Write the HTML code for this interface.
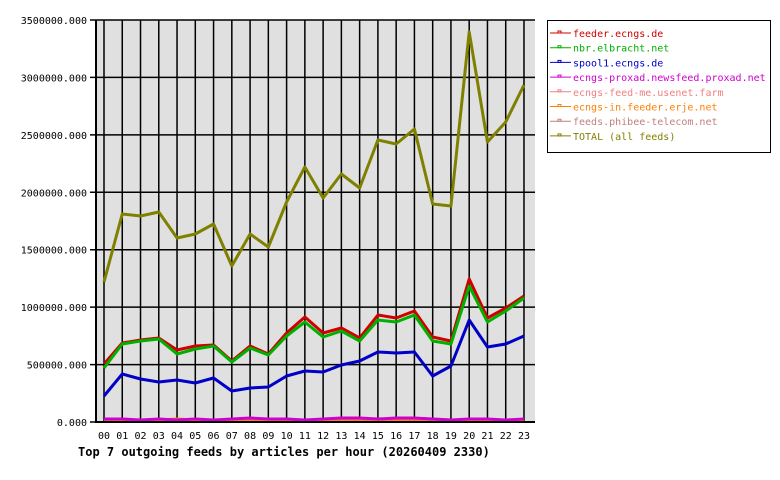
<!DOCTYPE html><html><head><style>body{margin:0;background:#fff}svg{display:block}text{font-family:"DejaVu Sans Mono","Liberation Mono",monospace;font-size:10px}</style></head><body>
<svg width="780" height="480" xmlns="http://www.w3.org/2000/svg">
<rect x="96" y="20" width="439" height="402" fill="#e0e0e0"/>
<g id="g" stroke="#000" stroke-width="1.5"></g>
<g id="s" fill="none" stroke-width="3" stroke-linejoin="round"></g>
<g id="lab"></g>
<line x1="96" y1="20" x2="96" y2="423" stroke="#000" stroke-width="2"/>
<line x1="95" y1="422" x2="535" y2="422" stroke="#000" stroke-width="2"/>
<text x="78" y="456" style="font-weight:bold;font-size:12px">Top 7 outgoing feeds by articles per hour (20260409 2330)</text>
<rect x="547.5" y="20.5" width="223" height="132" fill="#fff" stroke="#000"/>
<g id="leg"></g>
</svg>
<script>
const NS="http://www.w3.org/2000/svg";
function el(p,t,a,txt){const e=document.createElementNS(NS,t);for(const k in a)e.setAttribute(k,a[k]);if(txt)e.textContent=txt;p.appendChild(e);return e;}
const g=document.getElementById('g'),s=document.getElementById('s'),lab=document.getElementById('lab'),leg=document.getElementById('leg');
const X=i=>104+i*18.26;
for(let i=0;i<24;i++){el(g,'line',{x1:X(i),y1:20,x2:X(i),y2:422});el(lab,'text',{x:X(i),y:439,'text-anchor':'middle'},String(i).padStart(2,'0'));}
for(let k=0;k<=7;k++){const y=422-k*402/7;el(g,'line',{x1:90,y1:y,x2:535,y2:y});el(lab,'text',{x:87,y:y+4,'text-anchor':'end'},(k*500000)+'.000');}
const D=[
['#d00000',[364,343,340,338,350,346,345,361,346,354,333,317,333,328,338,315,318,311,337,341,279,318,308,296]],
['#00b000',[368,344,341,339,354,349,346,362,348,355,336,322,337,331,341,320,322,315,341,344,286,322,311,298]],
['#0000c8',[396,374,379,382,380,383,378,391,388,387,376,371,372,365,361,352,353,352,376,366,320,347,344,336]],
['#f08080',Array(24).fill(420)],
['#c08080',Array(24).fill(421)],
['#ff8000',[420,420,421,420,419,420,421,420,420,420,420,421,420,420,420,421,420,420,419,420,420,420,421,420]],
['#d000d0',[419,419,420,419,420,419,420,419,418,419,419,420,419,418,418,419,418,418,419,420,419,419,420,419]],
['#808000',[282,214,216,212,238,234,224,266,234,247,202,167,198,174,188,140,144,129,204,206,32,142,122,85]]];
D.forEach(([c,v])=>el(s,'polyline',{stroke:c,points:v.map((y,i)=>X(i)+','+y).join(' ')}));
const L=[['feeder.ecngs.de','#d00000'],['nbr.elbracht.net','#00b000'],['spool1.ecngs.de','#0000c8'],['ecngs-proxad.newsfeed.proxad.net','#d000d0'],['ecngs-feed-me.usenet.farm','#f08080'],['ecngs-in.feeder.erje.net','#ff8000'],['feeds.phibee-telecom.net','#c08080'],['TOTAL (all feeds)','#808000']];
L.forEach(([t,c],i)=>{const y=33+i*14.7;el(leg,'line',{x1:550,y1:y,x2:571,y2:y,stroke:c,'stroke-width':1});el(leg,'rect',{x:558,y:y-2,width:3,height:2,fill:'none',stroke:c,'stroke-width':1});el(leg,'text',{x:573,y:y+4,fill:c},t);});
</script></body></html>
